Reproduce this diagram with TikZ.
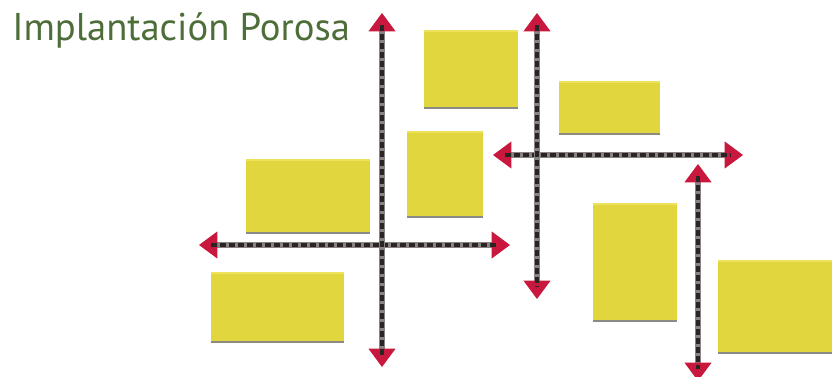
\documentclass[tikz,border=0pt]{standalone}
\usepackage{fontspec}
\setmainfont{PT Sans}
\usetikzlibrary{arrows.meta}
\definecolor{IPYellow}{HTML}{E2D63E}
\definecolor{IPTop}{HTML}{ECE25C}
\definecolor{IPShade}{HTML}{8C8A86}
\definecolor{IPRed}{HTML}{C8183D}
\definecolor{IPLine}{HTML}{8A8383}
\definecolor{IPDash}{HTML}{2B2424}
\definecolor{IPGreen}{HTML}{4D6E38}
\tikzset{
  pad/.style={fill=IPYellow},
  padtop/.style={fill=IPTop},
  padfoot/.style={fill=IPShade},
  guide/.style={IPLine,line width=3.6pt,
    arrows={Triangle[width=0.68cm,length=0.46cm,color=IPRed,line width=0pt]-Triangle[width=0.68cm,length=0.46cm,color=IPRed,line width=0pt]},
    postaction={draw=IPDash,arrows=-,line width=3pt,dash pattern=on 4.6pt off 1.8pt,shorten <=0.3cm,shorten >=0.3cm}},
  heading/.style={IPGreen,inner sep=0pt,font=\fontsize{27.5}{32}\selectfont}
}

\begin{document}
\begin{tikzpicture}[x=1cm,y=1cm]
\path[use as bounding box] (0,0) rectangle (20.80,9.40);
\fill[white] (0,0) rectangle (20.80,9.40);
\node[heading,anchor=base west] (title) at (0.30,8.40) {Implantación Porosa};
% blocks
\fill[pad] (10.60,6.725) rectangle (12.95,8.65);
\fill[padtop] (10.60,8.60) rectangle (12.95,8.65);
\fill[padfoot] (10.60,6.675) rectangle (12.95,6.725);
\fill[pad] (13.975,6.075) rectangle (16.50,7.375);
\fill[padtop] (13.975,7.325) rectangle (16.50,7.375);
\fill[padfoot] (13.975,6.025) rectangle (16.50,6.075);
\fill[pad] (10.175,4.00) rectangle (12.075,6.125);
\fill[padtop] (10.175,6.075) rectangle (12.075,6.125);
\fill[padfoot] (10.175,3.95) rectangle (12.075,4.00);
\fill[pad] (6.15,3.60) rectangle (9.25,5.425);
\fill[padtop] (6.15,5.375) rectangle (9.25,5.425);
\fill[padfoot] (6.15,3.55) rectangle (9.25,3.60);
\fill[pad] (5.275,0.875) rectangle (8.60,2.60);
\fill[padtop] (5.275,2.55) rectangle (8.60,2.60);
\fill[padfoot] (5.275,0.825) rectangle (8.60,0.875);
\fill[pad] (14.825,1.40) rectangle (16.925,4.325);
\fill[padtop] (14.825,4.275) rectangle (16.925,4.325);
\fill[padfoot] (14.825,1.35) rectangle (16.925,1.40);
\fill[pad] (17.95,0.60) rectangle (20.80,2.90);
\fill[padtop] (17.95,2.85) rectangle (20.80,2.90);
\fill[padfoot] (17.95,0.55) rectangle (20.80,0.60);
% guide lines
\coordinate (v1top) at (9.55,9.075);
\coordinate (v1bot) at (9.55,0.225);
\coordinate (h1left) at (4.975,3.275);
\coordinate (h1right) at (12.75,3.275);
\coordinate (v2top) at (13.425,9.075);
\coordinate (v2bot) at (13.425,1.925);
\coordinate (h2left) at (12.325,5.525);
\coordinate (h2right) at (18.575,5.525);
\coordinate (v3top) at (17.45,5.30);
\coordinate (v3bot) at (17.45,-0.125);
\draw[guide] (h1left) -- (h1right);
\draw[guide] (h2left) -- (h2right);
\draw[guide] (v1top) -- (v1bot);
\draw[guide] (v2top) -- (v2bot);
\draw[guide] (v3top) -- (v3bot);
\end{tikzpicture}
\end{document}
